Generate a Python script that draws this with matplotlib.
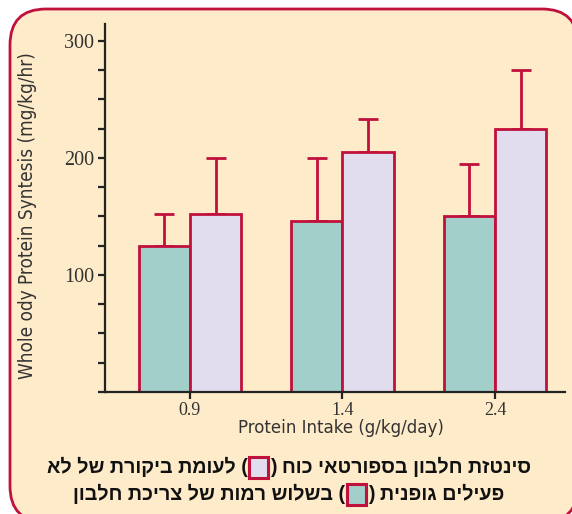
import matplotlib
matplotlib.use("Agg")
import matplotlib.pyplot as plt
from matplotlib.patches import FancyBboxPatch, Rectangle
from matplotlib.ticker import MultipleLocator
from matplotlib import font_manager

# protein intake levels (g/kg/day)
intake = ["0.9", "1.4", "2.4"]
# whole body protein synthesis (mg/kg/hr)
sedentary = [125, 146, 150]
sedentary_err = [27, 54, 45]
athletes = [152, 205, 225]
athletes_err = [48, 28, 50]

caption_1 = ("סינטזת חלבון בספורטאי כוח (", ") לעומת ביקורת של לא")
caption_2 = ("פעילים גופנית (", ") בשלוש רמות של צריכת חלבון")

red = "#c0103c"
green = "#a3cfcb"
lilac = "#e1ddef"
cream = "#fdebc9"

fig = plt.figure(figsize=(5.72, 5.14), dpi=100)
fig.patch.set_facecolor("white")

# rounded frame behind everything
frame = FancyBboxPatch((0.10, -0.08), 5.68, 5.13, boxstyle="round,pad=0,rounding_size=0.36",
                       transform=fig.dpi_scale_trans, facecolor=cream, edgecolor=red,
                       linewidth=2.0, zorder=-5)
fig.patches.append(frame)

ax = fig.add_axes([105 / 572, 1 - 392 / 514, 460 / 572, 368 / 514])
ax.set_facecolor("none")
ax.set_zorder(2)

x = list(range(len(intake)))
w = 0.335
xs = [i - w / 2 for i in x]
xa = [i + w / 2 for i in x]

ax.errorbar(xs, sedentary, yerr=[[0] * 3, sedentary_err], fmt="none", ecolor=red,
            elinewidth=2.0, capsize=7, capthick=2.0, zorder=1)
ax.errorbar(xa, athletes, yerr=[[0] * 3, athletes_err], fmt="none", ecolor=red,
            elinewidth=2.0, capsize=7, capthick=2.0, zorder=1)
ax.bar(xs, sedentary, width=w, color=green, edgecolor=red, linewidth=2.0, zorder=2)
ax.bar(xa, athletes, width=w, color=lilac, edgecolor=red, linewidth=2.0, zorder=2)

ax.set_xlim(-0.557, 2.459)
ax.set_ylim(0, 314.5)

for s in ["top", "right"]:
    ax.spines[s].set_visible(False)
for s in ["left", "bottom"]:
    ax.spines[s].set_linewidth(1.6)
    ax.spines[s].set_color("#222222")

ax.set_xticks(x)
ax.set_xticklabels(intake, fontfamily="Liberation Serif", fontsize=13, color="#333333")
ax.set_yticks([100, 200, 300])
ax.set_yticklabels(["100", "200", "300"], fontfamily="Liberation Serif", fontsize=14.5,
                   color="#333333")
ax.yaxis.set_minor_locator(MultipleLocator(25))
ax.tick_params(axis="y", which="both", direction="out", length=5, width=1.6, color="#222222", pad=3)
ax.tick_params(axis="x", direction="out", length=5, width=1.6, color="#222222", pad=2)

# condensed sans for the axis titles
xcond = font_manager.FontProperties(family="DejaVu Sans", stretch="condensed", size=13.3)
ycond = font_manager.FontProperties(family="DejaVu Sans", stretch="condensed", size=13.6)
ax.set_xlabel("Protein Intake (g/kg/day)", fontproperties=xcond, color="#333333")
ax.xaxis.set_label_coords((341 - 105) / 460, -(428 - 392) / 368)
ax.xaxis.label.set_va("center")
ax.set_ylabel("Whole ody Protein Syntesis (mg/kg/hr)", fontproperties=ycond, color="#333333")
ax.yaxis.set_label_coords((28 - 105) / 460, (392 - 216) / 368)
ax.yaxis.label.set_va("center")


def visual(s):
    # reverse Hebrew for left-to-right glyph drawing
    swap = {"(": ")", ")": "("}
    return "".join(swap.get(c, c) for c in s[::-1])


fig.canvas.draw()
renderer = fig.canvas.get_renderer()
heb = ["Liberation Sans", "DejaVu Sans"]


def caption_line(parts, y_px, fill, cx_px=289):
    before, after = parts
    left = fig.text(0, 0, visual(after), family=heb, fontweight="bold", fontsize=14.2,
                    color="#111111", va="center", ha="left")
    right = fig.text(0, 0, visual(before), family=heb, fontweight="bold", fontsize=14.2,
                     color="#111111", va="center", ha="left")
    wl = left.get_window_extent(renderer).width
    wr = right.get_window_extent(renderer).width
    sw, sh = 19, 21
    gap = 2
    total = wl + gap + sw + gap + wr
    x0 = cx_px - total / 2
    y = 1 - y_px / 514
    left.set_position((x0 / 572, y))
    fig.patches.append(Rectangle(((x0 + wl + gap) / 572, y - (sh / 2) / 514), sw / 572, sh / 514,
                                 transform=fig.transFigure, facecolor=fill, edgecolor=red,
                                 linewidth=2.2, zorder=3))
    right.set_position(((x0 + wl + gap + sw + gap) / 572, y))


caption_line(caption_1, 467, lilac)
caption_line(caption_2, 494, green, cx_px=289)

fig.savefig("out.png", dpi=100, facecolor=fig.get_facecolor())
